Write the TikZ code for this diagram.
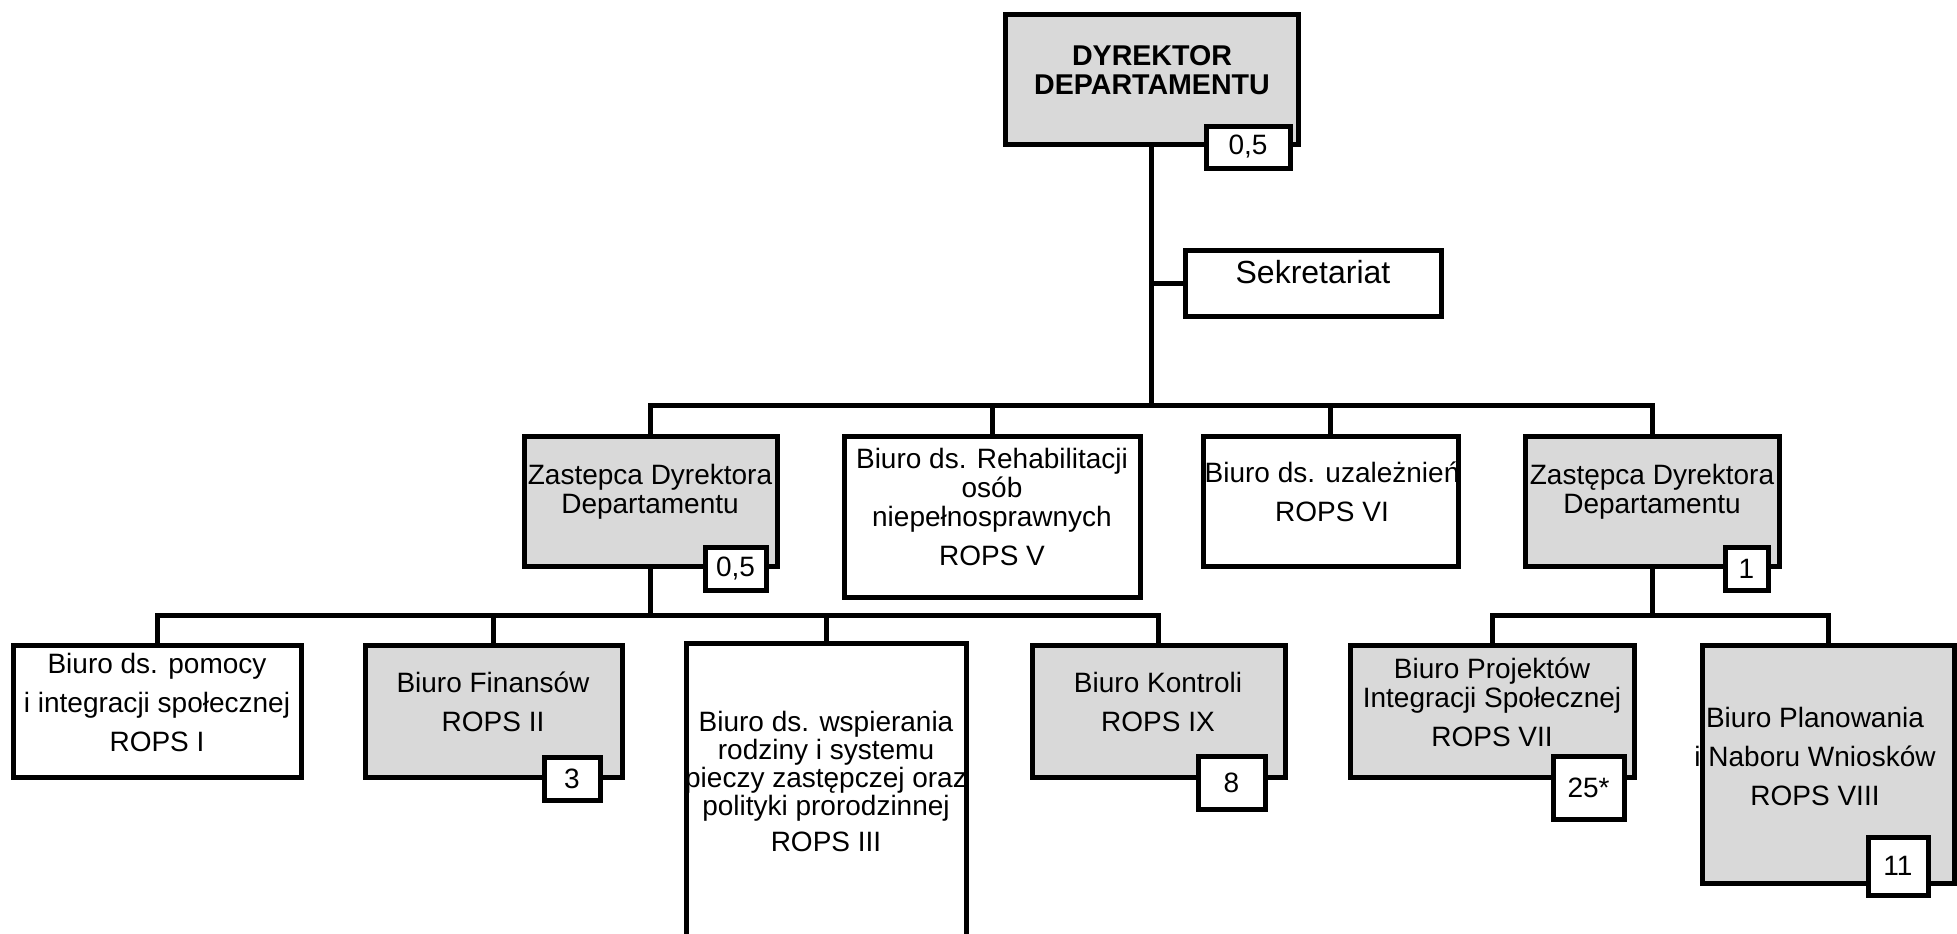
\documentclass[tikz,border=0pt]{standalone}
\usepackage{fontspec}
\setmainfont{Liberation Sans}
\definecolor{boxgray}{RGB}{217,217,217}

\tikzset{
	unit/.style={draw, line width=2.5pt, inner sep=0pt, fill=white},
	shaded/.style={unit, fill=boxgray},
	utext/.style={align=center, inner sep=0pt, font=\fontsize{14pt}{14.5pt}\selectfont},
	badge/.style={draw, line width=2.5pt, fill=white, inner sep=0pt, font=\fontsize{14pt}{14.5pt}\selectfont},
	link/.style={line width=2.5pt}
}

\begin{document}
\begin{tikzpicture}[x=0.5pt, y=-0.5pt]

	\useasboundingbox (0,0) rectangle (1957,933);

	%director and secretariat
	\node[shaded, minimum width=146.5pt, minimum height=65pt] (dir) at (1151.5,79) {};
	\node[utext, font=\fontsize{14.3pt}{14.5pt}\selectfont\bfseries] (dir-t) at (1152,70) {DYREKTOR\\DEPARTAMENTU};
	\node[unit, minimum width=128pt, minimum height=33pt] (sek) at (1313,283) {};
	\node[utext, font=\fontsize{16pt}{16pt}\selectfont] (sek-t) at (1313,272) {Sekretariat};

	%second level
	\node[shaded, minimum width=126.5pt, minimum height=65pt] (zas1) at (650.5,501) {};
	\node[utext] (zas1-t) at (650,492) {Zastepca Dyrektora\\Departamentu};
	\node[unit, minimum width=148pt, minimum height=80.5pt] (rehab) at (992,516.5) {};
	\node[utext] (rehab-t) at (992,507) {Biuro ds. Rehabilitacji\\osób\\niepełnosprawnych\\[5pt]ROPS V};
	\node[unit, minimum width=127.5pt, minimum height=65pt] (uzal) at (1330.5,501) {};
	\node[utext] (uzal-t) at (1332,492) {Biuro ds. uzależnień\\[5pt]ROPS VI};
	\node[shaded, minimum width=127pt, minimum height=65pt] (zas2) at (1652,501) {};
	\node[utext] (zas2-t) at (1652,492) {Zastępca Dyrektora\\Departamentu};

	%third level
	\node[unit, minimum width=144pt, minimum height=66pt] (pomoc) at (157,711.5) {};
	\node[utext] (pomoc-t) at (157,702) {Biuro ds. pomocy\\[5pt]i integracji społecznej\\[5pt]ROPS I};
	\node[shaded, minimum width=128.5pt, minimum height=66pt] (fin) at (493.5,711.5) {};
	\node[utext] (fin-t) at (493,702) {Biuro Finansów\\[5pt]ROPS II};
	\node[unit, minimum width=140pt, minimum height=157pt] (rodz) at (826,800) {};
	\node[utext, font=\fontsize{14pt}{14pt}\selectfont] (rodz-t) at (826,781) {Biuro ds. wspierania\\rodziny i systemu\\pieczy zastępczej oraz\\polityki prorodzinnej\\[4pt]ROPS III};
	\node[shaded, minimum width=126.5pt, minimum height=66pt] (kontr) at (1158.5,711.5) {};
	\node[utext] (kontr-t) at (1158,702) {Biuro Kontroli\\[5pt]ROPS IX};
	\node[shaded, minimum width=142pt, minimum height=66pt] (proj) at (1492,711.5) {};
	\node[utext] (proj-t) at (1492,702) {Biuro Projektów\\Integracji Społecznej\\[5pt]ROPS VII};
	\node[shaded, minimum width=126pt, minimum height=119pt] (plan) at (1828,764) {};
	\node[utext] (plan-t) at (1815,756) {Biuro Planowania\\[5pt]i Naboru Wniosków\\[5pt]ROPS VIII};

	%connectors
	\draw[link] (dir.south) -- ++(0,259) coordinate (j1);
	\draw[link] (dir.south |- sek.west) -- (sek.west);
	\foreach \n in {zas1,rehab,uzal,zas2}
		\draw[link] (j1) -| (\n.north);
	\draw[link] (zas1.south) -- ++(0,47) coordinate (j2);
	\foreach \n in {pomoc,fin,rodz,kontr}
		\draw[link] (j2) -| (\n.north);
	\draw[link] (zas2.south) -- ++(0,47) coordinate (j3);
	\foreach \n in {proj,plan}
		\draw[link] (j3) -| (\n.north);

	%staff numbers
	\node[badge, minimum width=42pt, minimum height=21pt] (dir-b) at (1248,147) {0,5};
	\node[badge, minimum width=30.5pt, minimum height=21.5pt] (zas1-b) at (735.5,568.5) {0,5};
	\node[badge, minimum width=21.5pt, minimum height=21.5pt] (zas2-b) at (1746.5,568.5) {1};
	\node[badge, minimum width=28pt, minimum height=21.5pt] (fin-b) at (572,779) {3};
	\node[badge, minimum width=33.5pt, minimum height=26.5pt] (kontr-b) at (1231.5,783) {8};
	\node[badge, minimum width=35.5pt, minimum height=31.5pt] (proj-b) at (1588.5,787.5) {25*};
	\node[badge, minimum width=30pt, minimum height=29pt] (plan-b) at (1898,866) {11};

\end{tikzpicture}
\end{document}
